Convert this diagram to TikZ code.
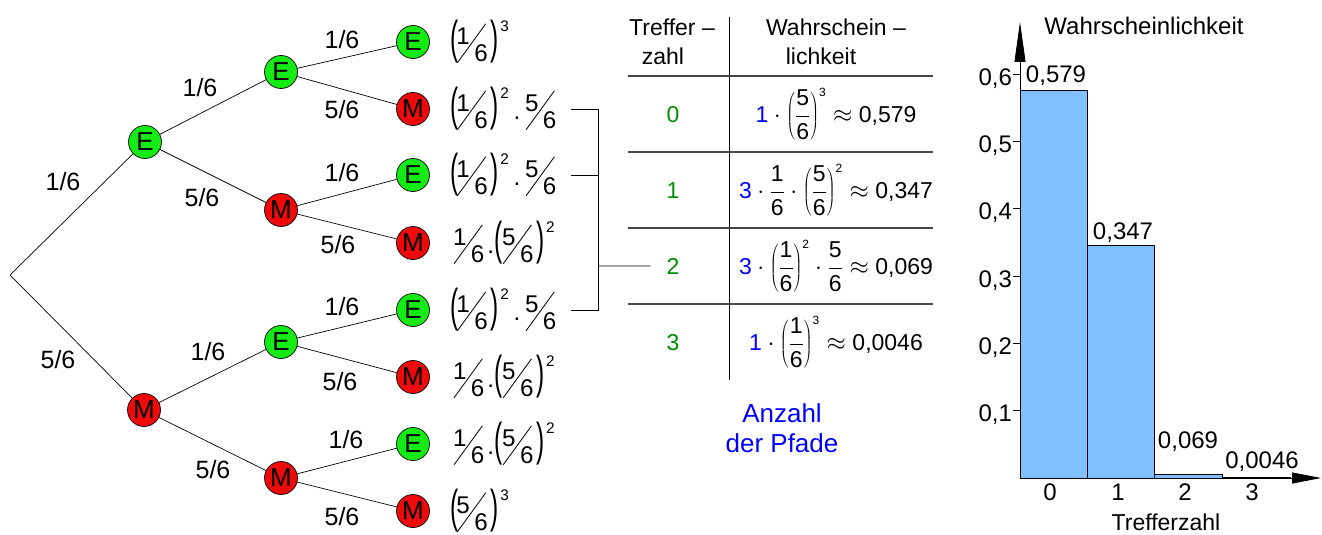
\documentclass[tikz,border=0pt]{standalone}
\usepackage{fontspec}
\setmainfont{Liberation Sans}
\usepackage{graphicx}
\usetikzlibrary{arrows.meta}
\definecolor{nodegreen}{RGB}{20,235,20}
\definecolor{nodered}{RGB}{238,10,10}
\definecolor{tgreen}{RGB}{0,140,0}
\definecolor{tblue}{RGB}{0,0,255}
\definecolor{barblue}{RGB}{128,192,255}
\definecolor{tline}{RGB}{70,70,70}
\newcommand{\fsz}[1]{\fontsize{#1}{#1}\selectfont}
% slanted fraction for the tree formulas
\newcommand{\nfr}[2]{\mbox{\raisebox{16pt}{\fsz{20.5}#1}\kern-10.8pt\rotatebox{54}{\rule{40.8pt}{0.7pt}}\kern-9.98pt\raisebox{1pt}{\fsz{20.5}#2}}}
\newcommand{\lpar}{\raisebox{8.2pt}{\scalebox{0.9}[1.7]{\fsz{23}(}}}
\newcommand{\rpar}{\raisebox{8.2pt}{\scalebox{0.9}[1.7]{\fsz{23})}}}
\newcommand{\ex}[1]{\raisebox{27pt}{\fsz{13}#1}}
\newcommand{\md}{\raisebox{9pt}{\fsz{20.5}.}}
\newcommand{\fA}[3]{\lpar\kern-1.5pt\nfr{#1}{#2}\kern2.5pt\rpar\kern1.3pt\ex{#3}}
\newcommand{\fB}{\fA{1}{6}{2}\kern4pt\md\kern4pt\nfr{5}{6}}
\newcommand{\fC}{\nfr{1}{6}\kern2.5pt\md\kern0.5pt\lpar\kern-0.5pt\nfr{5}{6}\kern2.5pt\rpar\kern1.3pt\ex{2}}
\newcommand{\enl}[1]{\scalebox{1.18}{#1}}
% digits in math with the text font
\newcommand{\tn}[1]{\mbox{#1}}
\newcommand{\tex}[1]{\mbox{\fsz{12}#1}}
\begin{document}
\begin{tikzpicture}[x=1pt,y=-1pt,
  every node/.style={inner sep=0pt,outer sep=0pt},
  ev/.style={circle,draw=black,line width=0.7pt,minimum size=33pt,inner sep=0pt,font=\fsz{26}},
  evE/.style={ev,fill=nodegreen},
  evM/.style={ev,fill=nodered},
  br/.style={draw=black,line width=0.7pt},
  plab/.style={font=\fsz{25}},
  tf/.style={anchor=base west,font=\fsz{20.5}},
  tform/.style={anchor=base,font=\fsz{23}},
  hd/.style={anchor=base,font=\fsz{23}},
  gnum/.style={anchor=base,font=\fsz{23},text=tgreen},
  tl/.style={draw=tline,line width=1.3pt},
  bar/.style={fill=barblue,draw=black,line width=0.8pt},
  ax/.style={draw=black,line width=0.8pt},
  cl/.style={font=\fsz{24}},
]
\useasboundingbox (0,0) rectangle (1322,535);

% ---------------- tree
\coordinate (r) at (10,275);
\node[evE] (a)   at (145,142) {E};
\node[evM] (b)   at (144,410) {M};
\node[evE] (aa)  at (281,72)  {E};
\node[evM] (ab)  at (281,210) {M};
\node[evE] (ba)  at (281,342) {E};
\node[evM] (bb)  at (281,478) {M};
\node[evE] (aaa) at (413,42)  {E};
\node[evM] (aab) at (413,109) {M};
\node[evE] (aba) at (413,175) {E};
\node[evM] (abb) at (413,243) {M};
\node[evE] (baa) at (413,310) {E};
\node[evM] (bab) at (413,377) {M};
\node[evE] (bba) at (413,444) {E};
\node[evM] (bbb) at (413,511) {M};

\draw[br] (r) -- (a);
\draw[br] (r) -- (b);
\draw[br] (a) -- (aa);
\draw[br] (a) -- (ab);
\draw[br] (b) -- (ba);
\draw[br] (b) -- (bb);
\draw[br] (aa) -- (aaa);
\draw[br] (aa) -- (aab);
\draw[br] (ab) -- (aba);
\draw[br] (ab) -- (abb);
\draw[br] (ba) -- (baa);
\draw[br] (ba) -- (bab);
\draw[br] (bb) -- (bba);
\draw[br] (bb) -- (bbb);

\node[plab] (l1) at (63,182) {1/6};
\node[plab] (l2) at (58,360) {5/6};
\node[plab] (l3) at (200,88) {1/6};
\node[plab] (l4) at (202,198) {5/6};
\node[plab] (l5) at (208,352) {1/6};
\node[plab] (l6) at (213,470) {5/6};
\node[plab] (l7) at (342,40) {1/6};
\node[plab] (l8) at (342,110) {5/6};
\node[plab] (l9) at (342,173) {1/6};
\node[plab] (l10) at (338,245) {5/6};
\node[plab] (l11) at (342,307) {1/6};
\node[plab] (l12) at (340,382) {5/6};
\node[plab] (l13) at (346,440) {1/6};
\node[plab] (l14) at (342,517) {5/6};

\node[tf] (f1) at (450,63)  {\enl{\fA{1}{6}{3}}};
\node[tf] (f2) at (450,130) {\enl{\fB}};
\node[tf] (f3) at (450,196) {\enl{\fB}};
\node[tf] (f4) at (453,264) {\enl{\fC}};
\node[tf] (f5) at (450,331) {\enl{\fB}};
\node[tf] (f6) at (453,398) {\enl{\fC}};
\node[tf] (f7) at (453,465) {\enl{\fC}};
\node[tf] (f8) at (450,532) {\enl{\fA{5}{6}{3}}};

% ---------------- table
\draw[black,line width=0.8pt] (729,17) -- (729,380);
\draw[tl] (628,76) -- (933,76);
\draw[tl] (628,152) -- (933,152);
\draw[tl] (628,228) -- (933,228);
\draw[tl] (628,304) -- (933,304);

\node[hd] (h1) at (672,36) {Treffer –};
\node[hd] (h2) at (663,64) {zahl};
\node[hd] (h3) at (836,36) {Wahrschein –};
\node[hd] (h4) at (821,64) {lichkeit};

\node[gnum] (n0) at (673,122) {0};
\node[gnum] (n1) at (673,198) {1};
\node[gnum] (n2) at (673,274) {2};
\node[gnum] (n3) at (673,350) {3};

\node[tform] (p0) at (836,122) {$\displaystyle\textcolor{tblue}{\tn{1}}\cdot\left(\frac{\tn{5}}{\tn{6}}\right)^{\tex{3}}\approx$ 0,579};
\node[tform] (p1) at (836,198) {$\displaystyle\textcolor{tblue}{\tn{3}}\cdot\frac{\tn{1}}{\tn{6}}\cdot\left(\frac{\tn{5}}{\tn{6}}\right)^{\tex{2}}\approx$ 0,347};
\node[tform] (p2) at (836,274) {$\displaystyle\textcolor{tblue}{\tn{3}}\cdot\left(\frac{\tn{1}}{\tn{6}}\right)^{\tex{2}}\cdot\frac{\tn{5}}{\tn{6}}\approx$ 0,069};
\node[tform] (p3) at (836,350) {$\displaystyle\textcolor{tblue}{\tn{1}}\cdot\left(\frac{\tn{1}}{\tn{6}}\right)^{\tex{3}}\approx$ 0,0046};

\node[anchor=base,font=\fsz{26},text=tblue] (az1) at (782,422) {Anzahl};
\node[anchor=base,font=\fsz{26},text=tblue] (az2) at (782,452) {der Pfade};

% ---------------- bracket
\coordinate (k1) at (571,109);
\coordinate (k1e) at (598,109);
\coordinate (k2) at (571,175);
\coordinate (k2e) at (598,175);
\coordinate (k3) at (571,310);
\coordinate (k3e) at (598,310);
\coordinate (kj) at (598,266);
\draw[br] (k1) -- (k1e) -- (k3e) -- (k3);
\draw[br] (k2) -- (k2e);
\draw[br] (kj) -- ([xshift=-16pt]n2.west);

% ---------------- chart
\path[bar] (1020,478) rectangle (1087,90);
\path[bar] (1087,478) rectangle (1154,245.5);
\path[bar] (1154,478) rectangle (1222,474);
\path[bar] (1222,478) rectangle (1290,477);
\draw[ax,-{Triangle[length=40pt,width=11pt]}] (1020,478) -- (1020,22);
\draw[ax,-{Triangle[length=29pt,width=11pt]}] (1020,478) -- (1321,478);
\foreach \k/\lab in {1/{0,1},2/{0,2},3/{0,3},4/{0,4},5/{0,5},6/{0,6}}{
  \draw[ax] (1013,{478-67.3*\k}) -- (1020,{478-67.3*\k});
  \node[cl,anchor=base east] (yt\k) at (1012,{478-67.3*\k+11}) {\lab};
}
\node[cl,anchor=base] (v0) at (1056,82) {0,579};
\node[cl,anchor=base] (v1) at (1123,239) {0,347};
\node[cl,anchor=base] (v2) at (1188,448) {0,069};
\node[cl,anchor=base] (v3) at (1262,468) {0,0046};
\node[cl,anchor=base] (x0) at (1050,500) {0};
\node[cl,anchor=base] (x1) at (1118,500) {1};
\node[cl,anchor=base] (x2) at (1185,500) {2};
\node[cl,anchor=base] (x3) at (1252,500) {3};
\node[cl,anchor=base] (yl) at (1144,35) {Wahrscheinlichkeit};
\node[font=\fsz{23},anchor=base] (xl) at (1166,530) {Trefferzahl};
\end{tikzpicture}
\end{document}
